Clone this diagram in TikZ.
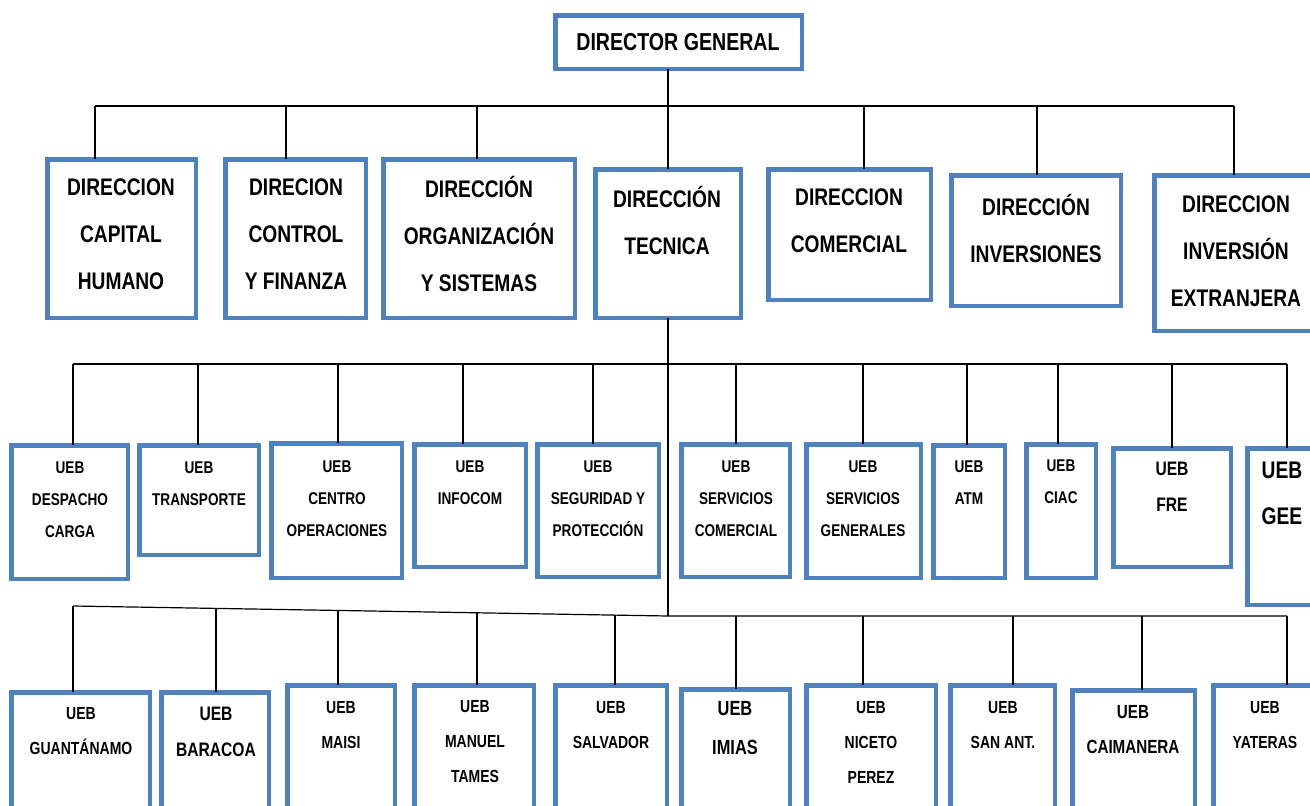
\documentclass[tikz,border=0pt]{standalone}
\usepackage{fontspec}
\setmainfont{Liberation Sans}[FakeStretch=0.8]
\definecolor{boxblue}{RGB}{79,129,189}
\begin{document}
\begin{tikzpicture}[x=1pt,y=-1pt,
  box/.style={draw=boxblue, line width=4.5pt, fill=white, inner sep=0pt, outer sep=0pt},
  wire/.style={draw=black, line width=1.2pt},
  lbl/.style={align=center, inner sep=0pt, text=black},
  fTop/.style={font=\bfseries\fontsize{24.5}{30}\selectfont},
  fDir/.style={font=\bfseries\fontsize{24}{47}\selectfont},
  fUnit/.style={font=\bfseries\fontsize{17}{32}\selectfont},
  fLoc/.style={font=\bfseries\fontsize{17.5}{35}\selectfont}]
\useasboundingbox (0,0) rectangle (1310,806);
\clip (0,0) rectangle (1310,806);

% box with outer edges x1,y1,x2,y2
\newcommand\orgbox[5]{%
  \node[box, minimum width={#4-#2-4.5}, minimum height={#5-#3-4.5}]
    (#1) at ({(#2+#4)/2},{(#3+#5)/2}) {};}

% ---------- top ----------
\orgbox{dg}{553}{13}{804}{71}
\node[lbl,fTop] (t-dg) at (678,42) {DIRECTOR GENERAL};

% ---------- directions ----------
\orgbox{d1}{45}{157}{198}{320}
\orgbox{d2}{223}{157}{368}{320}
\orgbox{d3}{381}{157}{577}{320}
\orgbox{d4}{593}{167}{743}{320}
\orgbox{d5}{766}{167}{933}{302}
\orgbox{d6}{949}{173}{1123}{308}
\orgbox{d7}{1152}{173}{1330}{333}
\node[lbl,fDir] (t-d1) at (121,234) {DIRECCION\\CAPITAL\\HUMANO};
\node[lbl,fDir] (t-d2) at (296,234) {DIRECION\\CONTROL\\Y FINANZA};
\node[lbl,fDir] (t-d3) at (479,234) {DIRECCIÓN\\ORGANIZACIÓN\\Y SISTEMAS};
\node[lbl,fDir] (t-d4) at (667,220) {DIRECCIÓN\\TECNICA};
\node[lbl,fDir] (t-d5) at (849,221) {DIRECCION\\COMERCIAL};
\node[lbl,fDir] (t-d6) at (1036,228) {DIRECCIÓN\\INVERSIONES};
\node[lbl,fDir] (t-d7) at (1236,251) {DIRECCION\\INVERSIÓN\\EXTRANJERA};

% ---------- technical units ----------
\orgbox{u1}{9}{443}{130}{581}
\orgbox{u2}{137}{443}{261}{557}
\orgbox{u3}{269}{441}{404}{580}
\orgbox{u4}{412}{442}{528}{569}
\orgbox{u5}{535}{442}{661}{579}
\orgbox{u6}{679}{442}{792}{579}
\orgbox{u7}{804}{442}{923}{580}
\orgbox{u8}{931}{443}{1007}{580}
\orgbox{u9}{1024}{442}{1098}{580}
\orgbox{u10}{1111}{446}{1233}{569}
\orgbox{u11}{1245}{446}{1330}{607}
\node[lbl,fUnit] (t-u1) at (70,500) {UEB\\DESPACHO\\CARGA};
\node[lbl,fUnit] (t-u2) at (199,484) {UEB\\TRANSPORTE};
\node[lbl,fUnit] (t-u3) at (337,499) {UEB\\CENTRO\\OPERACIONES};
\node[lbl,fUnit] (t-u4) at (470,483) {UEB\\INFOCOM};
\node[lbl,fUnit] (t-u5) at (598,499) {UEB\\SEGURIDAD Y\\PROTECCIÓN};
\node[lbl,fUnit] (t-u6) at (736,499) {UEB\\SERVICIOS\\COMERCIAL};
\node[lbl,fUnit] (t-u7) at (863,499) {UEB\\SERVICIOS\\GENERALES};
\node[lbl,fUnit] (t-u8) at (969,483) {UEB\\ATM};
\node[lbl,fUnit] (t-u9) at (1061,482) {UEB\\CIAC};
\node[lbl,font=\bfseries\fontsize{19.5}{36}\selectfont] (t-u10) at (1172,487) {UEB\\FRE};
\node[lbl,font=\bfseries\fontsize{24}{46}\selectfont] (t-u11) at (1282,493) {UEB\\GEE};

% ---------- local units ----------
\orgbox{m1}{9}{690}{152}{830}
\orgbox{m2}{159}{690}{271}{830}
\orgbox{m3}{285}{683}{397}{830}
\orgbox{m4}{412}{683}{536}{830}
\orgbox{m5}{553}{683}{669}{830}
\orgbox{m6}{679}{687}{792}{830}
\orgbox{m7}{804}{683}{938}{830}
\orgbox{m8}{948}{683}{1057}{830}
\orgbox{m9}{1070}{688}{1197}{830}
\orgbox{m10}{1211}{683}{1330}{830}
\node[lbl,fLoc] (t-m1) at (81,731) {UEB\\GUANTÁNAMO};
\node[lbl,font=\bfseries\fontsize{19.5}{36}\selectfont] (t-m2) at (216,732) {UEB\\BARACOA};
\node[lbl,fLoc] (t-m3) at (341,725) {UEB\\MAISI};
\node[lbl,fLoc] (t-m4) at (475,742) {UEB\\MANUEL\\TAMES};
\node[lbl,fLoc] (t-m5) at (611,725) {UEB\\SALVADOR};
\node[lbl,font=\bfseries\fontsize{20.5}{39}\selectfont] (t-m6) at (735,728) {UEB\\IMIAS};
\node[lbl,fLoc] (t-m7) at (871,742) {UEB\\NICETO\\PEREZ};
\node[lbl,fLoc] (t-m8) at (1003,725) {UEB\\SAN ANT.};
\node[lbl,font=\bfseries\fontsize{19}{35}\selectfont] (t-m9) at (1133,730) {UEB\\CAIMANERA};
\node[lbl,fLoc] (t-m10) at (1265,725) {UEB\\YATERAS};

% ---------- connector taps ----------
\coordinate (k1) at (95,106);   \coordinate (k2) at (286,106);
\coordinate (k3) at (477,106);  \coordinate (k4) at (668,106);
\coordinate (k5) at (864,106);  \coordinate (k6) at (1037,106);
\coordinate (k7) at (1234,106);

\coordinate (a1) at (73,364);   \coordinate (a2) at (198,364);
\coordinate (a3) at (338,364);  \coordinate (a4) at (463,364);
\coordinate (a5) at (593,364);  \coordinate (a6) at (736,364);
\coordinate (a7) at (863,364);  \coordinate (a8) at (967,364);
\coordinate (a9) at (1058,364); \coordinate (a10) at (1172,364);
\coordinate (a11) at (1287,364);

\coordinate (b1) at (73,606);   \coordinate (b2) at (216,609);
\coordinate (b3) at (338,611);  \coordinate (b4) at (477,613);
\coordinate (b5) at (615,615);  \coordinate (bt) at (668,616);
\coordinate (b6) at (736,616);  \coordinate (b7) at (863,616);
\coordinate (b8) at (1013,616); \coordinate (b9) at (1142,616);
\coordinate (b10) at (1287,616);

% ---------- connectors ----------
\draw[wire] (d4.north |- dg.south) -- (d4.north);
\draw[wire] (k1) -- (k7);
\foreach \i in {1,2,3,5,6,7} \draw[wire] (k\i) -- (k\i |- d\i.north);

\draw[wire] (d4.south) -- (bt);
\draw[wire] (a1) -- (a11);
\foreach \i in {1,...,11} \draw[wire] (a\i) -- (a\i |- u\i.north);

\draw[wire] (b1) -- (bt) -- (b10);
\foreach \i in {1,...,10} \draw[wire] (b\i) -- (b\i |- m\i.north);
\end{tikzpicture}
\end{document}
